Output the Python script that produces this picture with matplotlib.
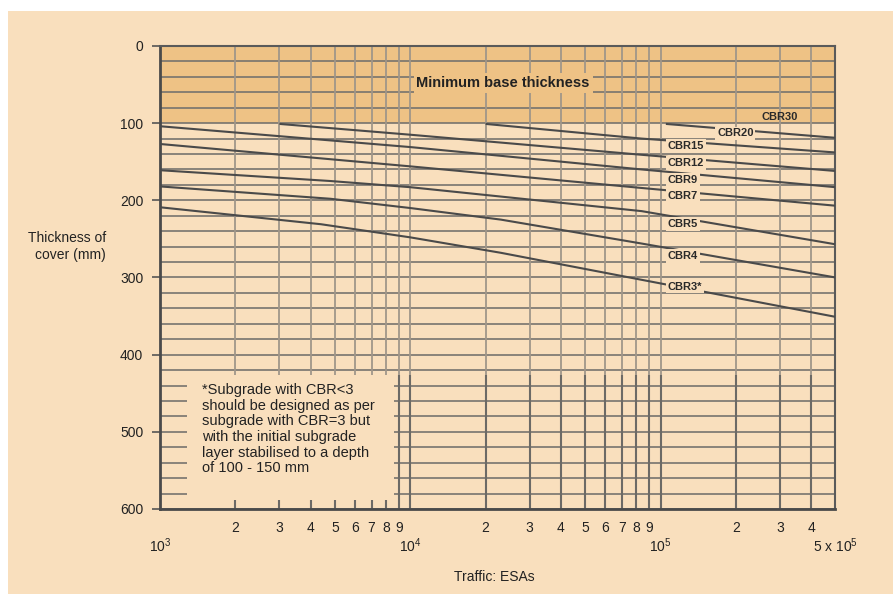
import matplotlib
matplotlib.use("Agg")
import matplotlib.pyplot as plt
from matplotlib.patches import Rectangle
from matplotlib.ticker import FixedLocator, FixedFormatter, MultipleLocator

plt.rcParams['font.family'] = ['Liberation Sans', 'DejaVu Sans']
plt.rcParams['mathtext.fontset'] = 'custom'
plt.rcParams['mathtext.rm'] = 'Liberation Sans'

# ---------------- data ----------------
cbr3_x = [1e3, 4.4e3, 1e4, 2.3e4, 8.4e4, 5e5]
cbr3_y = [209, 231, 248, 268, 303, 351]
cbr4_x = [1e3, 4.8e3, 1e4, 2.3e4, 8.4e4, 5e5]
cbr4_y = [182, 198, 210, 225, 256, 300]
cbr5_x = [1e3, 4.8e3, 1e4, 8.4e4, 5e5]
cbr5_y = [161, 175, 183, 214, 257]
cbr7_x = [1e3, 1e4, 8.4e4, 5e5]
cbr7_y = [127, 156, 184, 207]
cbr9_x = [1e3, 1e4, 8.4e4, 5e5]
cbr9_y = [104, 131, 160, 183]
cbr12_x = [3e3, 1e4, 8.4e4, 5e5]
cbr12_y = [101, 115, 141, 162]
cbr15_x = [2e4, 8.4e4, 5e5]
cbr15_y = [101, 120, 138]
cbr20_x = [1.05e5, 5e5]
cbr20_y = [101, 119]

curve_x = [cbr3_x, cbr4_x, cbr5_x, cbr7_x, cbr9_x, cbr12_x, cbr15_x, cbr20_x]
curve_y = [cbr3_y, cbr4_y, cbr5_y, cbr7_y, cbr9_y, cbr12_y, cbr15_y, cbr20_y]

curve_labels = ['CBR30', 'CBR20', 'CBR15', 'CBR12', 'CBR9', 'CBR7', 'CBR5', 'CBR4', 'CBR3*']
label_y = [92, 113, 129.5, 151.5, 173.5, 194, 230.5, 272, 312]
label_xfrac = [0.891, 0.8246, 0.752, 0.752, 0.752, 0.752, 0.752, 0.752, 0.752]

major_x = [1e3, 1e4, 1e5, 5e5]
major_lbl = [r'10$^{3}$', r'10$^{4}$', r'10$^{5}$', r'5 x 10$^{5}$']
minor_x = [2e3, 3e3, 4e3, 5e3, 6e3, 7e3, 8e3, 9e3,
           2e4, 3e4, 4e4, 5e4, 6e4, 7e4, 8e4, 9e4,
           2e5, 3e5, 4e5]
minor_lbl = ['2', '3', '4', '5', '6', '7', '8', '9',
             '2', '3', '4', '5', '6', '7', '8', '9',
             '2', '3', '4']
grid_x = minor_x + [1e4, 1e5]

y_ticks = [0, 100, 200, 300, 400, 500, 600]

# ---------------- style ----------------
bg = '#F9DFBD'
band = '#EEC285'
line_c = '#4a4a4a'
hgrid_c = '#77736e'
vgrid_up = '#a09689'
vgrid_lo = '#6c6a66'

fig = plt.figure(figsize=(8.93, 5.94), dpi=100)
fig.patch.set_facecolor('white')
fig.patches.append(Rectangle((8 / 893, 0), 1, 1 - 11 / 594, transform=fig.transFigure,
                             facecolor=bg, edgecolor='none', zorder=-10))

ax = fig.add_axes([0.1792, 0.1431, 0.7564, 0.7795])
ax.set_zorder(1)
ax.set_facecolor(bg)
ax.set_xscale('log')
ax.set_xlim(1e3, 5e5)
ax.set_ylim(600, 0)

ax.axhspan(0, 100, color=band, zorder=0.2, lw=0)

# horizontal grid every 20 mm
ax.set_yticks(y_ticks)
ax.yaxis.set_minor_locator(MultipleLocator(20))
ax.set_axisbelow(True)
ax.grid(axis='y', which='both', color=hgrid_c, lw=1.2)

# vertical grid
ax.vlines(grid_x, 0, 426, colors=vgrid_up, lw=1.3, zorder=1)
ax.vlines(grid_x, 426, 600, colors=vgrid_lo, lw=1.5, zorder=1)

# note box
ax.add_patch(Rectangle((0.040, 0.0194), 0.306, 0.27, transform=ax.transAxes,
                       facecolor=bg, edgecolor='none', zorder=2))
ax.text(0.0617, 0.272,
        '*Subgrade with CBR<3\nshould be designed as per\nsubgrade with CBR=3 but\n'
        'with the initial subgrade\nlayer stabilised to a depth\nof 100 - 150 mm',
        transform=ax.transAxes, ha='left', va='top', fontsize=10.5,
        linespacing=1.15, color='#222222', zorder=6)

# curves
for xs, ys in zip(curve_x, curve_y):
    ax.plot(xs, ys, color=line_c, lw=1.5, zorder=3, solid_capstyle='butt')

# curve labels
for i, (lab, yy, xf) in enumerate(zip(curve_labels, label_y, label_xfrac)):
    kw = dict(transform=ax.get_yaxis_transform(), ha='left', va='center',
              fontsize=8, fontweight='bold', color='#2a2a2a', zorder=6)
    if i == 0:
        ax.text(xf, yy, lab, **kw)
    else:
        ax.text(xf, yy, lab, bbox=dict(facecolor=bg, edgecolor='none', pad=1.2), **kw)

# band text
ax.text(0.508, 48, 'Minimum base thickness', transform=ax.get_yaxis_transform(),
        ha='center', va='center', fontsize=10.5, fontweight='bold', color='#222222',
        bbox=dict(facecolor=band, edgecolor='none', pad=2), zorder=6)

# x ticks
ax.xaxis.set_major_locator(FixedLocator(major_x))
ax.xaxis.set_major_formatter(FixedFormatter(major_lbl))
ax.xaxis.set_minor_locator(FixedLocator(minor_x))
ax.xaxis.set_minor_formatter(FixedFormatter(minor_lbl))
ax.tick_params(axis='x', which='both', length=0, labelsize=10, colors='#222222')
ax.tick_params(axis='x', which='major', pad=20)
ax.tick_params(axis='x', which='minor', pad=9)

# y ticks
ax.tick_params(axis='y', which='major', length=6, width=1.2, direction='out',
               pad=6, labelsize=10, color='#555555', labelcolor='#222222')
ax.tick_params(axis='y', which='minor', length=0)

for s in ['top', 'right']:
    ax.spines[s].set_color('#5a5a5a')
    ax.spines[s].set_linewidth(1.5)
for s in ['left', 'bottom']:
    ax.spines[s].set_color('#4a4a4a')
    ax.spines[s].set_linewidth(2.0)

fig.text(106 / 893, 1 - 246.5 / 594, 'Thickness of\ncover (mm)', ha='right', va='center',
         fontsize=10, color='#222222', multialignment='right', linespacing=1.25)
fig.text(494.5 / 893, 1 - 577 / 594, 'Traffic: ESAs', ha='center', va='center',
         fontsize=10, color='#222222')

fig.savefig('out.png', dpi=100, facecolor=fig.get_facecolor())
